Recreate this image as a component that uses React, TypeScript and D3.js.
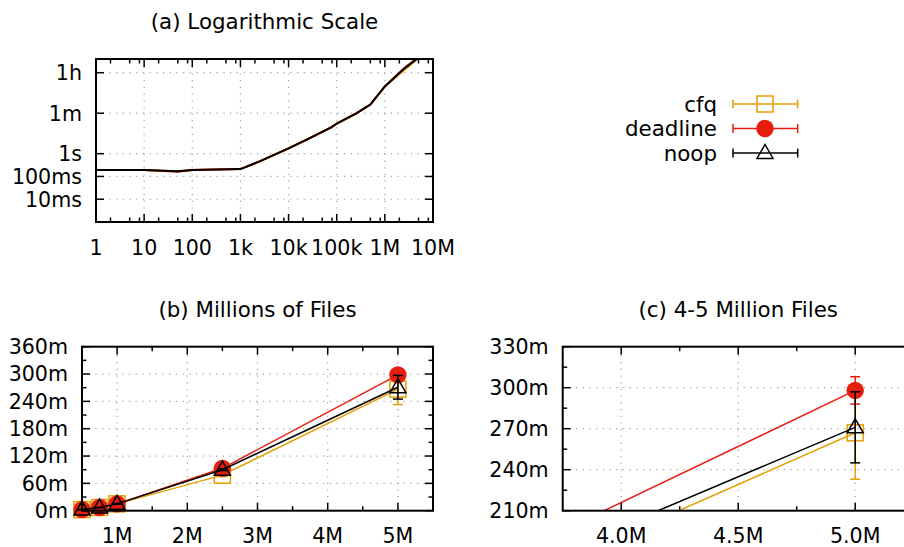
import React, { useEffect, useRef } from 'react';
import * as d3 from 'd3';

const FONT = '"DejaVu Sans", "Liberation Sans", sans-serif';

// (a) overview on log axes, time in seconds
const logFiles = [1, 10, 50, 100, 1000, 2500, 10000, 25000, 75000, 100000, 250000, 500000, 750000, 1000000, 2500000, 5000000];
const logCfq = [0.19, 0.19, 0.17, 0.19, 0.21, 0.46, 1.7, 4.4, 14, 21, 58, 144, 420, 900, 4680, 16020];
const logDeadline = [0.19, 0.19, 0.16, 0.19, 0.21, 0.46, 1.7, 4.4, 14, 21, 58, 144, 420, 900, 5580, 17880];
const logNoop = [0.19, 0.19, 0.17, 0.19, 0.21, 0.46, 1.7, 4.4, 14, 21, 58, 144, 420, 900, 5400, 16260];

// (b) and (c) big runs, time in minutes
const bigFiles = [500000, 750000, 1000000, 2500000, 5000000];
const cfqMin = [2.4, 7, 15, 78, 267];
const cfqErr = [0.3, 0.5, 1, 3, 34];
const deadlineMin = [2.4, 7, 15, 93, 298];
const deadlineErr = [0.3, 0.5, 1, 2, 10];
const noopMin = [2.4, 7, 15, 90, 271];
const noopErr = [0.3, 0.5, 1, 2, 26];

// tick labels
const logXTicks = [1, 10, 100, 1000, 10000, 100000, 1000000, 10000000];
const logXLabels = ['1', '10', '100', '1k', '10k', '100k', '1M', '10M'];
const logXMinor = [2, 5, 8];
const logYTicks = [0.01, 0.1, 1, 60, 3600];
const logYLabels = ['10ms', '100ms', '1s', '1m', '1h'];

const bXTicks = [1e6, 2e6, 3e6, 4e6, 5e6];
const bXLabels = ['1M', '2M', '3M', '4M', '5M'];
const bXMinor = [1.5e6, 2.5e6, 3.5e6, 4.5e6];
const bYTicks = [0, 60, 120, 180, 240, 300, 360];
const bYMinor = [30, 90, 150, 210, 270, 330];

const cXTicks = [4e6, 4.5e6, 5e6];
const cXLabels = ['4.0M', '4.5M', '5.0M'];
const cXMinor = [4.25e6, 4.75e6];
const cYTicks = [210, 240, 270, 300, 330];
const cYMinor = [225, 255, 285, 315];

const names = ['cfq', 'deadline', 'noop'];
const colors = ['#e69f00', '#e51e10', '#000000'];
const markers = ['square', 'circle', 'triangle'];

type Sel = d3.Selection<SVGGElement, unknown, null, undefined>;

function marker(g: Sel, type: string, cx: number, cy: number, color: string) {
  if (type === 'square') {
    g.append('rect').attr('x', cx - 8).attr('y', cy - 8).attr('width', 16).attr('height', 16)
      .attr('fill', 'none').attr('stroke', color).attr('stroke-width', 1.5);
  } else if (type === 'circle') {
    g.append('circle').attr('cx', cx).attr('cy', cy).attr('r', 8.7).attr('fill', color);
  } else {
    g.append('path').attr('d', `M${cx},${cy - 8.5}L${cx + 8},${cy + 5.5}L${cx - 8},${cy + 5.5}Z`)
      .attr('fill', 'none').attr('stroke', color).attr('stroke-width', 1.5);
  }
}

interface FrameOpts {
  xTicks: number[]; xLabels: string[]; xMinor: number[];
  yTicks: number[]; yLabels: string[]; yMinor: number[];
  title: string;
}

function frame(g: Sel, x: any, y: any, o: FrameOpts) {
  const [x0, x1] = x.range();
  const [y0, y1] = y.range(); // bottom, top
  const xd = x.domain(), yd = y.domain();
  const inX = (v: number) => v > xd[0] && v < xd[1];
  const inY = (v: number) => v > yd[0] && v < yd[1];

  // grid
  const grid = g.append('g').attr('stroke', '#a0a0a0').attr('stroke-width', 1.2).attr('stroke-dasharray', '1.2,5.5');
  o.xTicks.filter(inX).forEach(v => {
    grid.append('line').attr('x1', x(v)).attr('x2', x(v)).attr('y1', y0).attr('y2', y1);
  });
  o.yTicks.filter(inY).forEach(v => {
    grid.append('line').attr('x1', x0).attr('x2', x1).attr('y1', y(v)).attr('y2', y(v));
  });

  // ticks on all four sides, pointing inward
  const tk = g.append('g').attr('stroke', '#000').attr('stroke-width', 1.5);
  const xt = (v: number, len: number) => {
    if (v < xd[0] || v > xd[1]) return;
    tk.append('line').attr('x1', x(v)).attr('x2', x(v)).attr('y1', y0).attr('y2', y0 - len);
    tk.append('line').attr('x1', x(v)).attr('x2', x(v)).attr('y1', y1).attr('y2', y1 + len);
  };
  const yt = (v: number, len: number) => {
    if (v < yd[0] || v > yd[1]) return;
    tk.append('line').attr('x1', x0).attr('x2', x0 + len).attr('y1', y(v)).attr('y2', y(v));
    tk.append('line').attr('x1', x1).attr('x2', x1 - len).attr('y1', y(v)).attr('y2', y(v));
  };
  o.xTicks.forEach(v => xt(v, 8));
  o.xMinor.forEach(v => xt(v, 4.5));
  o.yTicks.forEach(v => yt(v, 8));
  o.yMinor.forEach(v => yt(v, 4.5));

  // labels
  const lab = g.append('g').attr('font-family', FONT).attr('font-size', 20.6).attr('fill', '#000');
  o.xTicks.forEach((v, i) => {
    lab.append('text').attr('x', x(v)).attr('y', y0 + 32.5).attr('text-anchor', 'middle').text(o.xLabels[i]);
  });
  o.yTicks.forEach((v, i) => {
    lab.append('text').attr('x', x0 - 14).attr('y', y(v)).attr('dy', '0.36em').attr('text-anchor', 'end').text(o.yLabels[i]);
  });
  lab.append('text').attr('x', (x0 + x1) / 2).attr('y', y1 - 30).attr('text-anchor', 'middle')
    .attr('font-size', 21.4).text(o.title);
}

function border(g: Sel, x: any, y: any) {
  const [x0, x1] = x.range();
  const [y0, y1] = y.range();
  g.append('rect').attr('x', x0).attr('y', y1).attr('width', x1 - x0).attr('height', y0 - y1)
    .attr('fill', 'none').attr('stroke', '#000').attr('stroke-width', 2);
}

function clip(svg: any, id: string, x: any, y: any) {
  const [x0, x1] = x.range();
  const [y0, y1] = y.range();
  svg.append('defs').append('clipPath').attr('id', id)
    .append('rect').attr('x', x0).attr('y', y1).attr('width', x1 - x0).attr('height', y0 - y1);
}

const App: React.FC = () => {
  const svgRef = useRef<SVGSVGElement>(null);

  useEffect(() => {
    if (!svgRef.current) return;
    const svg = d3.select(svgRef.current);
    svg.selectAll('*').remove();

    // ---------- (a) Logarithmic Scale ----------
    const xa = d3.scaleLog().domain([1, 1e7]).range([96, 433]);
    const ya = d3.scaleLog().domain([0.001, 14400]).range([222, 59]);
    const ga = svg.append('g') as Sel;
    clip(svg, 'clipA', xa, ya);
    frame(ga, xa, ya, {
      xTicks: logXTicks, xLabels: logXLabels,
      xMinor: logXTicks.slice(0, -1).flatMap(d => logXMinor.map(m => d * m)),
      yTicks: logYTicks, yLabels: logYLabels, yMinor: [],
      title: '(a) Logarithmic Scale',
    });
    const lineA = d3.line<number>().x((_, i) => xa(logFiles[i])).y(d => ya(d));
    [logCfq, logDeadline, logNoop].forEach((s, k) => {
      ga.append('path').datum(s).attr('clip-path', 'url(#clipA)')
        .attr('fill', 'none').attr('stroke', colors[k]).attr('stroke-width', 2).attr('d', lineA);
    });
    border(ga, xa, ya);

    // ---------- (b) and (c) ----------
    const series = [
      { v: cfqMin, e: cfqErr },
      { v: deadlineMin, e: deadlineErr },
      { v: noopMin, e: noopErr },
    ];

    const panel = (id: string, x: any, y: any, o: FrameOpts) => {
      const g = svg.append('g') as Sel;
      clip(svg, id, x, y);
      frame(g, x, y, o);
      const line = d3.line<number>().x((_, i) => x(bigFiles[i])).y(d => y(d));
      const yd = y.domain();
      series.forEach((s, k) => {
        const c = colors[k];
        const sg = g.append('g');
        sg.append('path').datum(s.v).attr('clip-path', `url(#${id})`)
          .attr('fill', 'none').attr('stroke', c).attr('stroke-width', 1.5).attr('d', line);
        s.v.forEach((v, i) => {
          const xv = bigFiles[i];
          if (xv < x.domain()[0] || xv > x.domain()[1] || v < yd[0] || v > yd[1]) return;
          const px = x(xv);
          const lo = y(v - s.e[i]);
          const hi = y(v + s.e[i]);
          sg.append('line').attr('x1', px).attr('x2', px).attr('y1', lo).attr('y2', hi)
            .attr('stroke', c).attr('stroke-width', 1.5);
          [lo, hi].forEach(py => {
            sg.append('line').attr('x1', px - 5).attr('x2', px + 5).attr('y1', py).attr('y2', py)
              .attr('stroke', c).attr('stroke-width', 1.5);
          });
          marker(sg as Sel, markers[k], px, y(v), c);
        });
      });
      border(g, x, y);
    };

    const xb = d3.scaleLinear().domain([0.5e6, 5.5e6]).range([82, 433]);
    const yb = d3.scaleLinear().domain([0, 360]).range([510.7, 346.7]);
    panel('clipB', xb, yb, {
      xTicks: bXTicks, xLabels: bXLabels, xMinor: bXMinor,
      yTicks: bYTicks, yLabels: bYTicks.map(d => `${d}m`), yMinor: bYMinor,
      title: '(b) Millions of Files',
    });

    const xc = d3.scaleLinear().domain([3.75e6, 5.25e6]).range([562.7, 913.7]);
    const yc = d3.scaleLinear().domain([210, 330]).range([510.7, 346.7]);
    panel('clipC', xc, yc, {
      xTicks: cXTicks, xLabels: cXLabels, xMinor: cXMinor,
      yTicks: cYTicks, yLabels: cYTicks.map(d => `${d}m`), yMinor: cYMinor,
      title: '(c) 4-5 Million Files',
    });

    // ---------- legend ----------
    const lg = svg.append('g') as Sel;
    names.forEach((n, k) => {
      const cy = 104 + k * 24.5;
      const c = colors[k];
      lg.append('text').attr('x', 717).attr('y', cy).attr('dy', '0.36em').attr('text-anchor', 'end')
        .attr('font-family', FONT).attr('font-size', 21.4).text(n);
      lg.append('line').attr('x1', 733).attr('x2', 797.7).attr('y1', cy).attr('y2', cy)
        .attr('stroke', c).attr('stroke-width', 1.5);
      [733, 797.7].forEach(px => {
        lg.append('line').attr('x1', px).attr('x2', px).attr('y1', cy - 4.5).attr('y2', cy + 4.5)
          .attr('stroke', c).attr('stroke-width', 1.5);
      });
      marker(lg, markers[k], 765, cy, c);
    });
  }, []);

  return (
    <svg ref={svgRef} width={904} height={547}
      style={{ position: 'absolute', left: 0, top: 0, background: '#fff' }} />
  );
};

export default App;
